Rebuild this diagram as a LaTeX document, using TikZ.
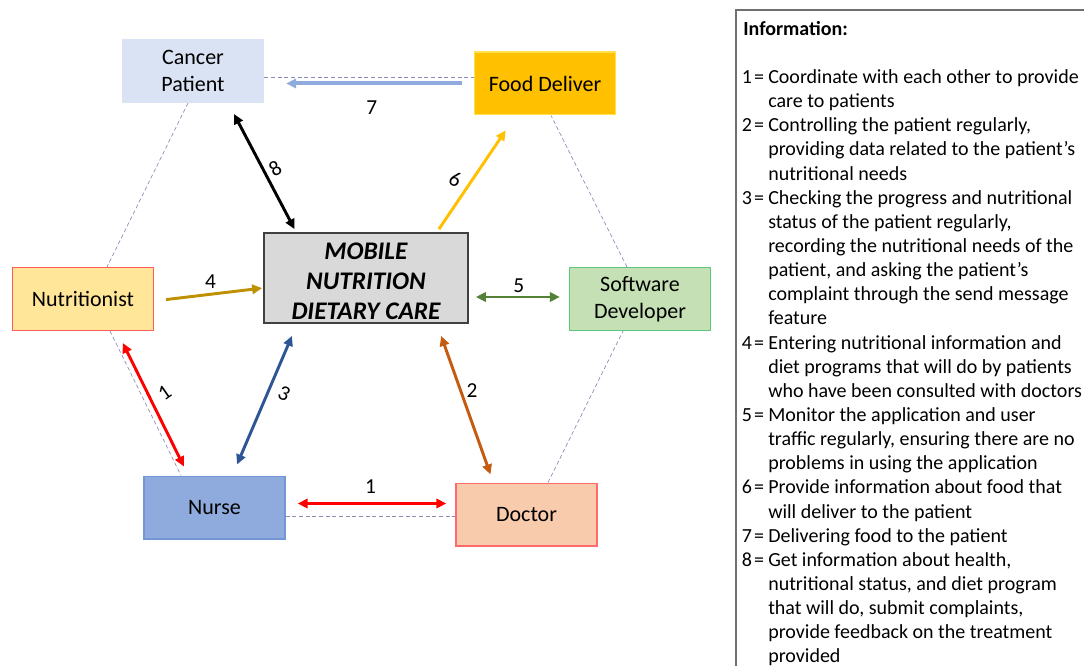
\documentclass[tikz,border=0pt]{standalone}
\usepackage{fontspec}
\setmainfont{Carlito}
\usepackage{tikz}
\usetikzlibrary{arrows.meta, positioning, calc}

\definecolor{patientfill}{HTML}{DAE3F3}
\definecolor{foodfill}{HTML}{FFC000}
\definecolor{foodline}{HTML}{FFE14D}
\definecolor{nutrifill}{HTML}{FFE699}
\definecolor{nutriline}{HTML}{FF5B5B}
\definecolor{corefill}{HTML}{D9D9D9}
\definecolor{coreline}{HTML}{404040}
\definecolor{softfill}{HTML}{C5E0B4}
\definecolor{softline}{HTML}{5BC77F}
\definecolor{nursefill}{HTML}{8FAADC}
\definecolor{nurseline}{HTML}{7296D6}
\definecolor{doctorfill}{HTML}{F8CBAD}
\definecolor{doctorline}{HTML}{FF6B6B}
\definecolor{linkdash}{HTML}{8A8AB5}
\definecolor{deliverarr}{HTML}{8FAADC}
\definecolor{inputarr}{HTML}{BF9000}
\definecolor{monitorarr}{HTML}{538135}
\definecolor{checkarr}{HTML}{2F5597}
\definecolor{controlarr}{HTML}{C55A11}
\definecolor{infoline}{HTML}{707070}

\newcommand\infoitem[1]{\makebox[18.75pt][l]{\kern-1pt#1\kern1.6pt=}}
\newcommand\infocont{\hspace*{18.75pt}}

\begin{document}
\begin{tikzpicture}[
    x=0.75pt, y=-0.75pt,
    every node/.style={font=\fontsize{16.5}{20}\selectfont, align=center},
    actor/.style={draw, rectangle, line width=1pt, inner sep=0pt,
                  minimum width=105.75pt, minimum height=47pt},
    core/.style={draw=coreline, fill=corefill, rectangle, line width=1.3pt,
                 minimum width=153pt, minimum height=67.5pt, inner sep=0pt,
                 font=\fontsize{19}{22.5}\selectfont\bfseries\itshape},
    dashlink/.style={draw=linkdash, line width=0.5pt, dash pattern=on 3pt off 2pt},
    arr/.style={->, >={Triangle[length=7.5pt, width=7pt]}, line width=2.2pt},
    num/.style={font=\fontsize{16}{19}\selectfont, inner sep=0pt},
    legend/.style={font=\fontsize{15}{18.1}\selectfont, align=left, inner sep=0pt}
]
\useasboundingbox (0,0) rectangle (1084,666);

% actors round the app
\node[actor, fill=patientfill, draw=patientfill] (patient) at (193,71)    {Cancer\\Patient};
\node[actor, fill=foodfill, draw=foodline]       (food)    at (545,83.5)  {Food Deliver};
\node[actor, fill=nutrifill, draw=nutriline]     (nutri)   at (83,299)    {Nutritionist};
\node[core]                                      (core)    at (366,278)   {\rule{0pt}{16.7pt}MOBILE\\NUTRITION\\DIETARY CARE};
\node[actor, fill=softfill, draw=softline]       (soft)    at (640,299)   {Software\\Developer};
\node[actor, fill=nursefill, draw=nurseline]     (nurse)   at (214.5,507.5) {Nurse};
\node[actor, fill=doctorfill, draw=doctorline]   (doctor)  at (526.5,514.5) {Doctor};

% dashed hexagon
\draw[dashlink] ($(patient.east)+(0,6)$) -- ($(patient.east -| food.west)+(0,6)$);
\draw[dashlink] ($(patient.south)+(-5,0)$) -- ($(nutri.north)+(24,0)$);
\draw[dashlink] ($(nutri.south)+(27,0)$) -- ($(nurse.north)+(-33.5,0)$);
\draw[dashlink] ($(nurse.east)+(0,9)$) -- ($(nurse.east -| doctor.west)+(0,9)$);
\draw[dashlink] ($(doctor.north)+(21.5,0)$) -- ($(soft.south)+(-17,0)$);
\draw[dashlink] ($(soft.north)+(-13,0)$) -- ($(food.south)+(6,0)$);

% relations
\draw[arr, draw=deliverarr, line width=3pt, shorten <=9pt, shorten >=16.5pt]
    (food.west) -- (food.west -| patient.east)
    node[num, midway, xshift=2pt, yshift=-18.4pt] {7};
\draw[arr, <->, draw=black, shorten <=9.3pt, shorten >=2.5pt]
    ($(patient.south east)+(-36,0)$) -- ($(core.north west)+(33,0)$)
    node[num, midway, xshift=9.75pt, yshift=-1pt, rotate=30] {8};
\draw[arr, draw=foodfill, shorten <=2.7pt, shorten >=13.5pt]
    ($(core.north east)+(-32,0)$) -- ($(food.south west)+(42,0)$)
    node[num, midway, xshift=-15.75pt, yshift=-4.5pt, rotate=-25] {6};
\draw[arr, draw=inputarr, shorten <=9pt, shorten >=0.75pt]
    ($(nutri.east)+(0,2)$) -- ($(core.west)+(0,10)$)
    node[num, midway, xshift=1.5pt, yshift=10pt] {4};
\draw[arr, <->, draw=monitorarr, shorten <=5.25pt, shorten >=6.75pt]
    ($(core.east |- soft.west)+(0,-2)$) -- ($(soft.west)+(0,-2)$)
    node[num, midway, yshift=8.25pt] {5};
\draw[arr, <->, draw=red, shorten <=10pt, shorten >=7.5pt]
    ($(nutri.south west)+(105,0)$) -- ($(nurse.north west)+(45,0)$)
    node[num, midway, xshift=9pt, yshift=7.5pt, rotate=35] {1};
\draw[arr, <->, draw=checkarr, shorten <=9.8pt, shorten >=9pt]
    ($(core.south west)+(34,0)$) -- ($(nurse.north west)+(89,0)$)
    node[num, midway, xshift=14.6pt, yshift=4.9pt, rotate=-25] {3};
\draw[arr, <->, draw=controlarr, shorten <=9.6pt, shorten >=6.4pt]
    ($(core.south east)+(-32,0)$) -- ($(doctor.north west)+(38,0)$)
    node[num, midway, xshift=5.25pt, yshift=9.75pt] {2};
\draw[arr, <->, draw=red, shorten <=9pt, shorten >=6.75pt]
    ($(nurse.east)+(0,-4)$) -- ($(nurse.east -| doctor.west)+(0,-4)$)
    node[num, midway, yshift=12.4pt] {1};

% information panel
\draw[draw=infoline, line width=1.5pt] (1090,10) -| (736,672);
\node[legend, anchor=north west] (legend) at (743,21) {%
\textbf{Information:}\\[18.1pt]
\infoitem{1}Coordinate with each other to provide\\
\infocont care to patients\\
\infoitem{2}Controlling the patient regularly,\\
\infocont providing data related to the patient's\\
\infocont nutritional needs\\
\infoitem{3}Checking the progress and nutritional\\
\infocont status of the patient regularly,\\
\infocont recording the nutritional needs of the\\
\infocont patient, and asking the patient's\\
\infocont complaint through the send message\\
\infocont feature\\
\infoitem{4}Entering nutritional information and\\
\infocont diet programs that will do by patients\\
\infocont who have been consulted with doctors\\
\infoitem{5}Monitor the application and user\\
\infocont traffic regularly, ensuring there are no\\
\infocont problems in using the application\\
\infoitem{6}Provide information about food that\\
\infocont will deliver to the patient\\
\infoitem{7}Delivering food to the patient\\
\infoitem{8}Get information about health,\\
\infocont nutritional status, and diet program\\
\infocont that will do, submit complaints,\\
\infocont provide feedback on the treatment\\
\infocont provided};
\end{tikzpicture}
\end{document}
